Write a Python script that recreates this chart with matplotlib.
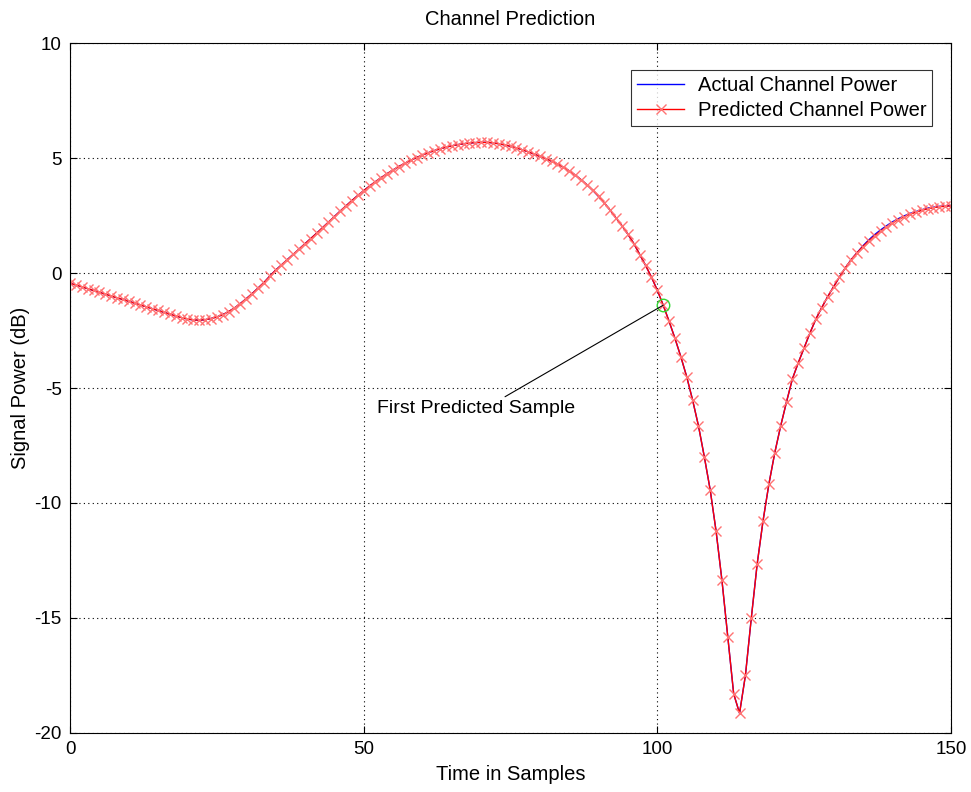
import numpy as np
import matplotlib
matplotlib.use("Agg")
import matplotlib.pyplot as plt

plt.rcParams['font.family'] = ['Liberation Sans', 'DejaVu Sans']
plt.rcParams['axes.unicode_minus'] = False

# sample index
samples = np.arange(0, 151)

# channel power in dB, one value per sample
predicted = [
    -0.45, -0.52, -0.60, -0.68, -0.76, -0.84, -0.92, -1.00, -1.08, -1.15,
    -1.23, -1.31, -1.39, -1.47, -1.55, -1.63, -1.71, -1.79, -1.87, -1.94,
    -2.00, -2.04, -2.05, -2.03, -1.98, -1.91, -1.81, -1.68, -1.52, -1.33,
    -1.12, -0.90, -0.66, -0.42, -0.14, 0.12, 0.35, 0.58, 0.81, 1.04,
    1.27, 1.50, 1.73, 1.97, 2.21, 2.45, 2.69, 2.92, 3.15, 3.37,
    3.58, 3.78, 3.97, 4.15, 4.32, 4.48, 4.63, 4.77, 4.90, 5.02,
    5.13, 5.23, 5.32, 5.40, 5.47, 5.53, 5.58, 5.62, 5.65, 5.67,
    5.68, 5.68, 5.66, 5.62, 5.57, 5.51, 5.44, 5.36, 5.27, 5.17,
    5.07, 4.97, 4.86, 4.74, 4.60, 4.44, 4.26, 4.06, 3.84, 3.60,
    3.33, 3.04, 2.72, 2.38, 2.05, 1.68, 1.28, 0.80, 0.33, -0.18,
    -0.75, -1.40, -2.10, -2.84, -3.64, -4.51, -5.52, -6.64, -7.99, -9.43,
    -11.22, -13.36, -15.83, -18.30, -19.14, -17.49, -15.00, -12.65, -10.77, -9.17,
    -7.81, -6.65, -5.60, -4.60, -3.90, -3.25, -2.60, -2.00, -1.50, -1.03,
    -0.60, -0.18, 0.22, 0.58, 0.88, 1.15, 1.40, 1.62, 1.82, 2.00,
    2.17, 2.32, 2.44, 2.55, 2.64, 2.72, 2.79, 2.84, 2.88, 2.90,
    2.92,
]
# actual power: same as predicted except a slight offset near the end
actual_offset = [0.0] * 135 + [0.03, 0.04, 0.05, 0.05, 0.05, 0.05, 0.04, 0.04,
                                0.04, 0.03, 0.03, 0.03, 0.02, 0.02, 0.02, 0.01]
actual = [p + o for p, o in zip(predicted, actual_offset)]

first_pred = 101

fig = plt.figure(figsize=(9.71, 7.92), dpi=100)
ax = fig.add_axes([0.0721, 0.0745, 0.9073, 0.8712])

ax.plot(samples, actual, color='blue', lw=1, label='Actual Channel Power')
ax.plot(samples, predicted, color='red', lw=1, marker='x', markersize=7,
        markeredgewidth=1, markeredgecolor=(1, 0.45, 0.45),
        label='Predicted Channel Power')
ax.plot(samples[first_pred], predicted[first_pred], 'o', mfc='none',
        mec=(0.2, 0.85, 0.2), markersize=9, mew=1)

# label with a pointer line from above the text to the first predicted sample
ax.annotate('First Predicted Sample',
            xy=(samples[first_pred], predicted[first_pred]),
            xytext=(52.3, -5.9), fontsize=14, va='center', ha='left',
            arrowprops=dict(arrowstyle='-', color='black', lw=0.8,
                            shrinkA=1, shrinkB=0, relpos=(0.615, 1.0)))

ax.set_xlim(0, 150)
ax.set_ylim(-20, 10)
ax.set_xticks([0, 50, 100, 150])
ax.set_yticks([-20, -15, -10, -5, 0, 5, 10])
ax.grid(True, linestyle=(0, (1, 3)), color='black', lw=0.8)
ax.tick_params(direction='in', top=True, right=True, labelsize=13.5,
               length=5, pad=6)

ax.set_title('Channel Prediction', fontsize=14.5, pad=13)
ax.set_xlabel('Time in Samples', fontsize=14.5, labelpad=5)
ax.set_ylabel('Signal Power (dB)', fontsize=14.5, labelpad=3)

leg = ax.legend(loc='upper right', bbox_to_anchor=(0.979, 0.961), fontsize=14.5,
                frameon=True, fancybox=False, edgecolor='black',
                handlelength=2.3, borderaxespad=0, labelspacing=0.3,
                borderpad=0.3, handletextpad=0.7)
leg.get_frame().set_linewidth(0.8)

fig.savefig('out.png', dpi=100)
